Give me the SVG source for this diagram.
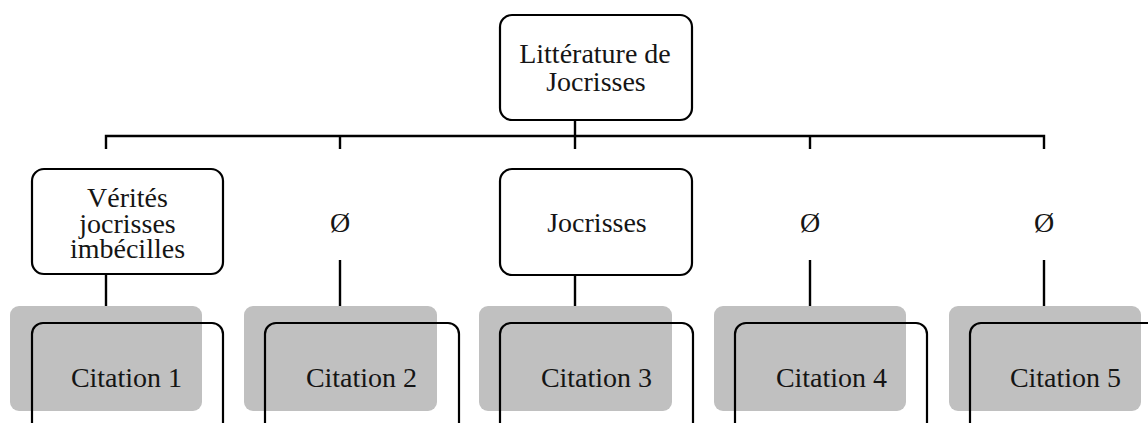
<svg xmlns="http://www.w3.org/2000/svg" width="1148" height="423" viewBox="0 0 1148 423">
<style>
.box{fill:#fff;stroke:#000;stroke-width:2.2}
.outline{fill:none;stroke:#000;stroke-width:2.2}
.shade{fill:#c0c0c0;stroke:none}
.ln{stroke:#000;stroke-width:2.4;fill:none}
text{font-family:"Liberation Serif","Times New Roman",serif;font-size:28px;fill:#151515;text-anchor:middle}
</style>
<rect width="1148" height="423" fill="#fff"/>
<g id="connectors">
<line class="ln" x1="575" y1="120" x2="575" y2="149"/>
<polyline class="ln" points="106,149 106,136 1044,136 1044,149"/>
<line class="ln" x1="340" y1="136" x2="340" y2="149"/>
<line class="ln" x1="810" y1="136" x2="810" y2="149"/>
<line class="ln" x1="106" y1="274" x2="106" y2="306"/>
<line class="ln" x1="340" y1="260" x2="340" y2="306"/>
<line class="ln" x1="575" y1="275" x2="575" y2="306"/>
<line class="ln" x1="810" y1="260" x2="810" y2="306"/>
<line class="ln" x1="1044" y1="260" x2="1044" y2="306"/>
</g>
<g id="root">
<rect class="box" x="500" y="15" width="192" height="105" rx="12"/>
<text x="595" y="63">Littérature de</text>
<text x="596" y="91">Jocrisses</text>
</g>
<g id="n1">
<rect class="box" x="32" y="169" width="191" height="105" rx="12"/>
<text x="127.5" y="207">Vérités</text>
<text x="127.5" y="232.5">jocrisses</text>
<text x="127.5" y="258">imbécilles</text>
</g>
<g id="n2"><text x="340" y="232">Ø</text></g>
<g id="n3">
<rect class="box" x="500" y="169" width="192" height="106" rx="12"/>
<text x="597" y="232">Jocrisses</text>
</g>
<g id="n4"><text x="810" y="232">Ø</text></g>
<g id="n5"><text x="1044" y="232">Ø</text></g>
<g id="c1">
<rect class="shade" x="10" y="306" width="192" height="105" rx="9"/>
<rect class="outline" x="32" y="323" width="191" height="115" rx="11"/>
<text x="126.5" y="387">Citation 1</text>
</g>
<g id="c2">
<rect class="shade" x="244" y="306" width="193" height="105" rx="9"/>
<rect class="outline" x="265" y="323" width="194" height="115" rx="11"/>
<text x="361.5" y="387">Citation 2</text>
</g>
<g id="c3">
<rect class="shade" x="479" y="306" width="193" height="105" rx="9"/>
<rect class="outline" x="500" y="323" width="193" height="115" rx="11"/>
<text x="596.5" y="387">Citation 3</text>
</g>
<g id="c4">
<rect class="shade" x="714" y="306" width="192" height="105" rx="9"/>
<rect class="outline" x="735" y="323" width="192" height="115" rx="11"/>
<text x="831.5" y="387">Citation 4</text>
</g>
<g id="c5">
<rect class="shade" x="949" y="306" width="192" height="105" rx="9"/>
<rect class="outline" x="970" y="323" width="193" height="115" rx="11"/>
<text x="1065.5" y="387">Citation 5</text>
</g>
</svg>
